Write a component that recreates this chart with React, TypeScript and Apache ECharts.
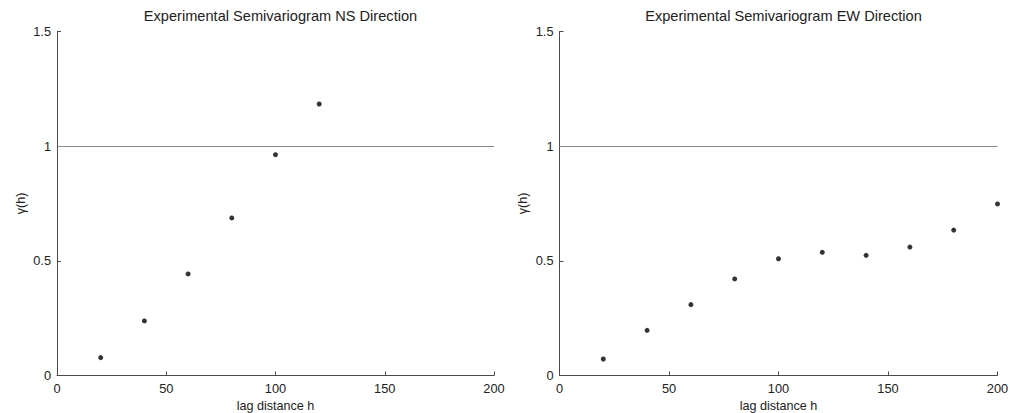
import React, { useEffect, useRef } from "react";
import * as echarts from "echarts";

// Lag distances (h) and semivariance values for each direction
const lagNS = [20, 40, 60, 80, 100, 120];
const gammaNS = [0.078, 0.238, 0.443, 0.687, 0.963, 1.184];

const lagEW = [20, 40, 60, 80, 100, 120, 140, 160, 180, 200];
const gammaEW = [0.072, 0.197, 0.309, 0.421, 0.509, 0.537, 0.524, 0.56, 0.634, 0.748];

const titles = ["Experimental Semivariogram NS Direction", "Experimental Semivariogram EW Direction"];
const sill = 1;

const FONT = "Liberation Sans, Arial, Helvetica, sans-serif";
const AXIS_COLOR = "#4a4a4a";

export default function App() {
  const ref = useRef<HTMLDivElement>(null);

  useEffect(() => {
    if (!ref.current) return;
    const chart = echarts.init(ref.current, null, { renderer: "svg" });

    const grids = [
      { left: 57, right: 516, top: 31.5, bottom: 37.5, containLabel: false, outerBoundsMode: "none" },
      { left: 559.5, right: 12.5, top: 31.5, bottom: 37.5, containLabel: false, outerBoundsMode: "none" },
    ];

    const makeX = (i: number) => ({
      type: "value",
      gridIndex: i,
      min: 0,
      max: 200,
      interval: 50,
      name: "lag distance h",
      nameLocation: "middle",
      nameGap: 19,
      nameTextStyle: { color: "#222", fontSize: 12.6, fontFamily: FONT },
      axisLine: { show: true, lineStyle: { color: AXIS_COLOR, width: 1 } },
      axisTick: { show: true, inside: true, length: 4, lineStyle: { color: AXIS_COLOR } },
      axisLabel: { color: "#222", fontSize: 12.8, fontFamily: FONT, margin: 6 },
      splitLine: { show: false },
    });

    const makeY = (i: number) => ({
      type: "value",
      gridIndex: i,
      min: 0,
      max: 1.5,
      interval: 0.5,
      name: "γ(h)",
      nameLocation: "middle",
      nameGap: 30,
      nameRotate: 90,
      nameTextStyle: { color: "#222", fontSize: 12.6, fontFamily: FONT },
      axisLine: { show: true, lineStyle: { color: AXIS_COLOR, width: 1 } },
      axisTick: { show: true, inside: true, length: 4, lineStyle: { color: AXIS_COLOR } },
      axisLabel: { color: "#222", fontSize: 12.8, fontFamily: FONT, margin: 6 },
      splitLine: { show: false },
    });

    const scatter = (i: number, xs: number[], ys: number[]) => ({
      type: "scatter",
      xAxisIndex: i,
      yAxisIndex: i,
      data: xs.map((x, k) => [x, ys[k]]),
      symbol: "circle",
      symbolSize: 5,
      itemStyle: { color: "#000" },
      markLine: {
        silent: true,
        symbol: "none",
        label: { show: false },
        lineStyle: { color: "#8a8a8a", width: 1, type: "solid" },
        data: [{ yAxis: sill }],
      },
    });

    chart.setOption({
      animation: false,
      backgroundColor: "#fff",
      title: titles.map((t, i) => ({
        text: t,
        left: i === 0 ? 275.5 : 778.5,
        top: 3,
        textAlign: "center",
        textStyle: { color: "#222", fontSize: 14.6, fontWeight: "normal", fontFamily: FONT },
      })),
      grid: grids,
      xAxis: [makeX(0), makeX(1)],
      yAxis: [makeY(0), makeY(1)],
      series: [scatter(0, lagNS, gammaNS), scatter(1, lagEW, gammaEW)],
    });

    return () => chart.dispose();
  }, []);

  return (
    <div
      ref={ref}
      style={{ position: "absolute", left: 0, top: 0, width: 1010, height: 413, background: "#fff" }}
    />
  );
}
